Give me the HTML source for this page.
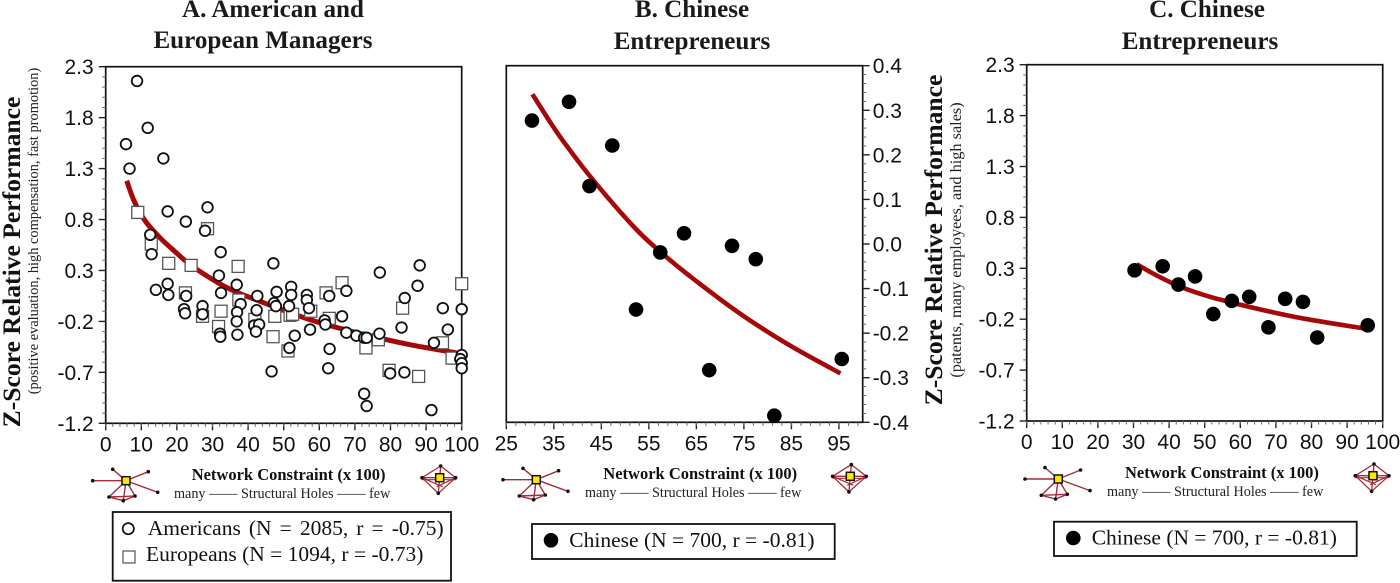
<!DOCTYPE html>
<html lang="en">
<head>
<meta charset="utf-8">
<title>Network constraint and relative performance</title>
<style>
html,body{margin:0;padding:0;background:#fff;width:1400px;height:583px;overflow:hidden}
svg{display:block}
.title{font:bold 25.1px "Liberation Serif",serif;fill:#1a1a1a;text-anchor:middle}
.ytitle{font:bold 25.6px "Liberation Serif",serif;fill:#111;text-anchor:middle}
.ysub{font:14.4px "Liberation Serif",serif;fill:#222;text-anchor:middle}
.ysub-c{font:16.3px "Liberation Serif",serif;fill:#222;text-anchor:middle}
.tick{font:21px "Liberation Sans",sans-serif;fill:#111}
.xname{font:bold 16.5px "Liberation Serif",serif;fill:#111}
.holes{font:14.2px "Liberation Serif",serif;fill:#222}
.leg{font:21.5px "Liberation Serif",serif;fill:#111}
</style>
</head>
<body>
<svg id="figure" xmlns="http://www.w3.org/2000/svg" width="1400" height="583" viewBox="0 0 1400 583">
<rect width="1400" height="583" fill="#fff"/>

<g>
<text class="title" x="273" y="17">A. American and</text>
<text class="title" x="263" y="48">European Managers</text>
</g>
<g>
<text class="title" x="692" y="17">B. Chinese</text>
<text class="title" x="692" y="49">Entrepreneurs</text>
</g>
<g>
<text class="title" x="1207" y="17">C. Chinese</text>
<text class="title" x="1200" y="49">Entrepreneurs</text>
</g>

<text class="ytitle" transform="translate(20,262) rotate(-90)">Z-Score Relative Performance</text>
<text class="ysub" transform="translate(38,231) rotate(-90)">(positive evaluation, high compensation, fast promotion)</text>
<text class="ytitle" transform="translate(942,240) rotate(-90)">Z-Score Relative Performance</text>
<text class="ysub-c" transform="translate(961,240) rotate(-90)">(patents, many employees, and high sales)</text>

<g>
<text class="xname" x="191.7" y="480">Network Constraint (x 100)</text>
<text class="holes" x="174" y="498">many —— Structural Holes —— few</text>
</g>
<g>
<text class="xname" x="603.3" y="479">Network Constraint (x 100)</text>
<text class="holes" x="585" y="497">many —— Structural Holes —— few</text>
</g>
<g>
<text class="xname" x="1125" y="478">Network Constraint (x 100)</text>
<text class="holes" x="1107" y="496">many —— Structural Holes —— few</text>
</g>

<g>
<rect x="112.7" y="512" width="338.3" height="68.7" fill="#fff" stroke="#111" stroke-width="1.8"/>
<circle cx="128.3" cy="528.7" r="5.6" fill="#fff" stroke="#111" stroke-width="1.7"/>
<text class="leg" x="147.7" y="535" style="word-spacing:2.7px">Americans (N = 2085, r = -0.75)</text>
<rect x="123" y="551" width="12" height="12" fill="#fff" stroke="#555" stroke-width="1.2"/>
<text class="leg" x="146" y="561">Europeans (N = 1094, r = -0.73)</text>
</g>
<g>
<rect x="532" y="524" width="302.7" height="35" fill="#fff" stroke="#111" stroke-width="1.8"/>
<circle cx="551" cy="540.3" r="7.3" fill="#000"/>
<text class="leg" x="569.3" y="547">Chinese (N = 700, r = -0.81)</text>
</g>
<g>
<rect x="1054" y="521.7" width="302.7" height="34.3" fill="#fff" stroke="#111" stroke-width="1.8"/>
<circle cx="1073.3" cy="538" r="7.3" fill="#000"/>
<text class="leg" x="1091.7" y="544.5">Chinese (N = 700, r = -0.81)</text>
</g>

<g id="plots"></g>
<g id="icons"></g>
</svg>

<script>
// Panel A — American and European managers
const aCircleX = [8.8,11.8,5.7,16.2,6.7,17.4,22.5,28.6,27.9,12.5,32.3,12.9,47.1,31.8,17.4,14.1,17.6,22.6,36.8,32.4,42.6,37.9,48,47.3,47.8,22,22.3,27.2,27.2,36.9,42.4,36.8,41.7,43.1,42.2,32.1,32.2,37,46.6,52.1,52.1,51.5,53.1,51.6,56.5,56.5,57.1,57.4,62.8,67.6,61.5,61.7,66.4,62.9,62.5,67.6,70.4,72.6,73.3,76.9,77,88.2,87.6,84,83.1,94.7,96.1,92.2,100,100,99.6,100,100,79.9,83.9,72.6,73.3,91.5];
const aCircleY = [2.16,1.70,1.54,1.40,1.30,0.88,0.78,0.92,0.69,0.65,0.48,0.46,0.37,0.25,0.17,0.11,0.06,0.05,0.16,0.08,0.05,-0.03,0.09,-0.02,-0.05,-0.08,-0.12,-0.05,-0.13,-0.11,-0.09,-0.2,-0.24,-0.23,-0.3,-0.32,-0.35,-0.33,-0.69,0.14,0.06,-0.05,-0.34,-0.46,0.06,0.01,-0.07,-0.28,0.05,0.1,-0.19,-0.23,-0.15,-0.47,-0.66,-0.31,-0.34,-0.36,-0.36,-0.32,0.28,0.35,0.15,0.03,-0.26,-0.07,-0.28,-0.41,-0.08,-0.53,-0.57,-0.61,-0.66,-0.71,-0.7,-0.91,-1.03,-1.07];
const aSquareX = [9,28.6,12.8,17.7,24,37.2,22.4,37.4,32.4,27.2,31.7,47.5,41.9,47,51.2,51.8,100,66.4,61.9,83.4,57.6,62.8,52.5,94.6,76.6,73.1,97.3,79.6,87.9];
const aSquareY = [0.87,0.71,0.56,0.37,0.35,0.34,0.08,0.01,-0.1,-0.15,-0.25,-0.15,-0.18,-0.35,-0.49,-0.14,0.17,0.18,0.08,-0.07,-0.1,-0.17,-0.13,-0.41,-0.38,-0.46,-0.56,-0.68,-0.74];
const aCurveX = [5.9,8,11,15,19,24,32,37,42.4,48,52.6,58,66,77,86.5,98.7];
const aCurveY = [1.18,0.98,0.79,0.63,0.5,0.35,0.17,0.085,0.01,-0.065,-0.125,-0.19,-0.27,-0.365,-0.435,-0.51];

// Panel B — Chinese entrepreneurs (raw scale)
const bDotX = [30.4,38.2,47.3,42.5,62.4,57.4,72.5,77.5,52.3,67.7,95.6,81.4];
const bDotY = [0.277,0.319,0.221,0.130,0.024,-0.019,-0.004,-0.034,-0.147,-0.283,-0.258,-0.385];
const bCurveX = [30.5,34.2,37.7,43.3,51.7,56.6,62.9,72.7,79.7,86.7,95.3];
const bCurveY = [0.336,0.274,0.22,0.143,0.04,-0.01,-0.066,-0.145,-0.195,-0.24,-0.29];

// Panel C — Chinese entrepreneurs (z-score)
const cDotX = [30.3,38.2,42.6,47.3,52.4,57.6,62.5,67.9,72.6,77.6,81.6,95.8];
const cDotY = [0.28,0.32,0.14,0.22,-0.15,-0.02,0.02,-0.28,0.0,-0.03,-0.38,-0.26];
const cCurveX = [30.9,36.5,43.1,51.5,60.9,70.2,79.6,94.6];
const cCurveY = [0.34,0.23,0.12,0.02,-0.065,-0.14,-0.205,-0.29];

// Axis ticks
const zTickValues = [2.3,1.8,1.3,0.8,0.3,-0.2,-0.7,-1.2];
const zTickLabels = ['2.3','1.8','1.3','0.8','0.3','-0.2','-0.7','-1.2'];
const bYTickValues = [0.4,0.3,0.2,0.1,0,-0.1,-0.2,-0.3,-0.4];
const bYTickLabels = ['0.4','0.3','0.2','0.1','0.0','-0.1','-0.2','-0.3','-0.4'];
const pctTickValues = [0,10,20,30,40,50,60,70,80,90,100];
const pctTickLabels = ['0','10','20','30','40','50','60','70','80','90','100'];
const bXTickValues = [25,35,45,55,65,75,85,95];
const bXTickLabels = ['25','35','45','55','65','75','85','95'];

const NS = 'http://www.w3.org/2000/svg';
function mk(tag, attrs, parent){
  const el = document.createElementNS(NS, tag);
  for (const k in attrs) el.setAttribute(k, attrs[k]);
  parent.appendChild(el);
  return el;
}
function linear(d0, d1, r0, r1){ return v => r0 + (v - d0) * (r1 - r0) / (d1 - d0); }

function smoothPath(px, py){
  let d = 'M' + px[0].toFixed(1) + ' ' + py[0].toFixed(1);
  for (let i = 0; i < px.length - 1; i++){
    const x0 = px[Math.max(i-1,0)], y0 = py[Math.max(i-1,0)];
    const x3 = px[Math.min(i+2,px.length-1)], y3 = py[Math.min(i+2,px.length-1)];
    const c1x = px[i] + (px[i+1]-x0)/6, c1y = py[i] + (py[i+1]-y0)/6;
    const c2x = px[i+1] - (x3-px[i])/6, c2y = py[i+1] - (y3-py[i])/6;
    d += 'C' + c1x.toFixed(1) + ' ' + c1y.toFixed(1) + ' ' + c2x.toFixed(1) + ' ' + c2y.toFixed(1) + ' ' + px[i+1].toFixed(1) + ' ' + py[i+1].toFixed(1);
  }
  return d;
}

function drawAxes(g, box, sx, sy, xVals, xLabels, yVals, yLabels, xStep, yStep, yRight){
  const dir = yRight ? 1 : -1;
  const edge = yRight ? box.r : box.l;
  const axes = mk('g', {}, g);
  
  
  // y ticks
  yVals.forEach((v, i) => {
    const y = sy(v);
    const t = mk('line', {x1:edge, x2:edge + dir*7, y1:y, y2:y, stroke:'#222', 'stroke-width':1.4}, axes);
    
    
    const lab = mk('text', {class:'tick', x:edge + dir*(yRight ? 10 : 12), y:y + 7.5, 'text-anchor':yRight ? 'start' : 'end'}, axes);
    
    
    lab.textContent = yLabels[i];
    if (i < yVals.length - 1){
      for (let m = 1; m < 5; m++){
        const ym = sy(v + (yVals[i+1]-v) * m / 5);
        mk('line', {x1:edge, x2:edge + dir*3.5, y1:ym, y2:ym, stroke:'#666', 'stroke-width':1}, axes);
      }
    }
  });
  // x ticks
  xVals.forEach((v, i) => {
    const x = sx(v);
    const t = mk('line', {x1:x, x2:x, y1:box.b, y2:box.b + 7, stroke:'#222', 'stroke-width':1.4}, axes);
    
    
    const lab = mk('text', {class:'tick', x:x, y:box.b + 28, 'text-anchor':'middle'}, axes);
    
    
    lab.textContent = xLabels[i];
  });
  // minor x ticks across the whole axis
  const dMin = xVals[0] - xStep, dMax = xVals[xVals.length-1] + xStep;
  for (let v = dMin; v <= dMax + 1e-6; v += xStep / 5){
    const x = sx(v);
    if (x >= box.l - 0.1 && x <= box.r + 0.1){
      mk('line', {x1:x, x2:x, y1:box.b, y2:box.b + 3.5, stroke:'#666', 'stroke-width':1}, axes);
    }
  }
}

function drawCurve(g, sx, sy, xs, ys, width, name){
  const p = mk('path', {d:smoothPath(xs.map(sx), ys.map(sy)), fill:'none', stroke:'#a50808', 'stroke-width':width}, g);
  
  
}

function drawFrame(g, box){
  const f = mk('rect', {x:box.l, y:box.t, width:box.r-box.l, height:box.b-box.t, fill:'none', stroke:'#111', 'stroke-width':1.7}, g);
  
  
}

function drawDots(g, sx, sy, xs, ys){
  xs.forEach((x, i) => {
    const c = mk('circle', {cx:sx(x), cy:sy(ys[i]), r:7.3, fill:'#000'}, g);
    
    
  });
}

const plots = document.getElementById('plots');

// Panel A
(function(){
  const box = {l:105.7, r:461.7, t:66.7, b:423.3};
  const sx = linear(0, 100, box.l, box.r);
  const sy = linear(2.3, -1.2, box.t, box.b);
  const g = mk('g', {}, plots);
  
  
  drawFrame(g, box);
  drawAxes(g, box, sx, sy, pctTickValues, pctTickLabels, zTickValues, zTickLabels, 10, 0.5, false);
  drawCurve(g, sx, sy, aCurveX, aCurveY, 5, 'panel-a-trend-line');
  aSquareX.forEach((x, i) => {
    const s = mk('rect', {x:sx(x)-6, y:sy(aSquareY[i])-6, width:12, height:12, fill:'#fff', stroke:'#555', 'stroke-width':1.3}, g);
    
    
  });
  aCircleX.forEach((x, i) => {
    const c = mk('circle', {cx:sx(x), cy:sy(aCircleY[i]), r:5.3, fill:'#fff', stroke:'#111', 'stroke-width':1.8}, g);
    
    
  });
})();

// Panel B
(function(){
  const box = {l:506.3, r:862.7, t:65.7, b:422.3};
  const sx = linear(25, 100, box.l, box.r);
  const sy = linear(0.4, -0.4, box.t, box.b);
  const g = mk('g', {}, plots);
  
  
  drawFrame(g, box);
  drawAxes(g, box, sx, sy, bXTickValues, bXTickLabels, bYTickValues, bYTickLabels, 10, 0.1, true);
  drawCurve(g, sx, sy, bCurveX, bCurveY, 4.6, 'panel-b-trend-line');
  drawDots(g, sx, sy, bDotX, bDotY);
})();

// Panel C
(function(){
  const box = {l:1026.7, r:1382.7, t:64.7, b:421};
  const sx = linear(0, 100, box.l, box.r);
  const sy = linear(2.3, -1.2, box.t, box.b);
  const g = mk('g', {}, plots);
  
  
  drawFrame(g, box);
  drawAxes(g, box, sx, sy, pctTickValues, pctTickLabels, zTickValues, zTickLabels, 10, 0.5, false);
  drawCurve(g, sx, sy, cCurveX, cCurveY, 4.6, 'panel-c-trend-line');
  drawDots(g, sx, sy, cDotX, cDotY);
})();

// Network diagrams beside each x-axis title
const icons = document.getElementById('icons');
function sparseNetwork(dx, dy){
  const g = mk('g', {transform:'translate(' + dx + ',' + dy + ')'}, icons);
  
  
  const c = [126,480.7];
  const nodes = [[112.7,469.3],[148.3,471.7],[92.7,480.7],[157.7,492.3],[109,497],[123.3,500.7],[135,496]];
  nodes.forEach(n => mk('line', {x1:c[0], y1:c[1], x2:n[0], y2:n[1], stroke:'#a82a3a', 'stroke-width':1.4}, g));
  [[4,5],[5,6],[4,6]].forEach(e => mk('line', {x1:nodes[e[0]][0], y1:nodes[e[0]][1], x2:nodes[e[1]][0], y2:nodes[e[1]][1], stroke:'#a82a3a', 'stroke-width':1.4}, g));
  nodes.forEach(n => mk('circle', {cx:n[0], cy:n[1], r:1.8, fill:'#111'}, g));
  mk('rect', {x:c[0]-4, y:c[1]-4, width:8, height:8, fill:'#ffe800', stroke:'#111', 'stroke-width':1.5}, g);
}
function denseNetwork(dx, dy){
  const g = mk('g', {transform:'translate(' + dx + ',' + dy + ')'}, icons);
  
  
  const c = [439.7,477.7];
  const nodes = [[440.7,466],[455.7,477.7],[438.3,493.3],[422,477.7]];
  nodes.forEach((n, i) => {
    mk('line', {x1:c[0], y1:c[1], x2:n[0], y2:n[1], stroke:'#a82a3a', 'stroke-width':1.3}, g);
    const m = nodes[(i+1)%4];
    mk('line', {x1:n[0], y1:n[1], x2:m[0], y2:m[1], stroke:'#a82a3a', 'stroke-width':1.3}, g);
  });
  mk('line', {x1:nodes[3][0], y1:nodes[3][1]+2, x2:nodes[1][0], y2:nodes[1][1]+2, stroke:'#a82a3a', 'stroke-width':1.2}, g);
  mk('line', {x1:nodes[3][0], y1:nodes[3][1], x2:c[0]+3, y2:c[1]+9, stroke:'#a82a3a', 'stroke-width':1.2}, g);
  mk('line', {x1:nodes[1][0], y1:nodes[1][1], x2:c[0]-3, y2:c[1]+9, stroke:'#a82a3a', 'stroke-width':1.2}, g);
  nodes.forEach(n => mk('circle', {cx:n[0], cy:n[1], r:1.8, fill:'#111'}, g));
  mk('rect', {x:c[0]-4, y:c[1]-4, width:8, height:8, fill:'#ffe800', stroke:'#111', 'stroke-width':1.5}, g);
}
sparseNetwork(0,0);
denseNetwork(0,0);
sparseNetwork(410.3,-1);
denseNetwork(410.6,-1.4);
sparseNetwork(932.3,-1.7);
denseNetwork(933.3,-2);
</script>
</body>
</html>
